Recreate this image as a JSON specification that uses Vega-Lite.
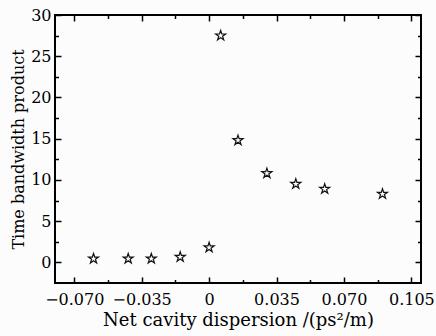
{
  "$schema": "https://vega.github.io/schema/vega-lite/v6.json",
  "width": 366,
  "height": 268,
  "autosize": "none",
  "padding": {"left": 55, "top": 15, "right": 15, "bottom": 53},
  "background": "#fcfcfc",
  "config": {
    "view": {"stroke": "#000", "strokeWidth": 2},
    "axis": {
      "labelFont": "DejaVu Serif",
      "titleFont": "DejaVu Serif",
      "labelFontSize": 16,
      "titleFontSize": 16,
      "titleFontWeight": "normal",
      "labelColor": "#000",
      "titleColor": "#000",
      "tickColor": "#000",
      "tickWidth": 1.5,
      "domain": false,
      "grid": false
    }
  },
  "data": {
    "values": [
      {"d": -0.060, "tbp": 0.45},
      {"d": -0.042, "tbp": 0.45},
      {"d": -0.030, "tbp": 0.45},
      {"d": -0.015, "tbp": 0.65},
      {"d": 0.000, "tbp": 1.8},
      {"d": 0.006, "tbp": 27.5},
      {"d": 0.015, "tbp": 14.8},
      {"d": 0.030, "tbp": 10.8},
      {"d": 0.045, "tbp": 9.5},
      {"d": 0.060, "tbp": 8.9},
      {"d": 0.090, "tbp": 8.3}
    ]
  },
  "layer": [
    {
      "mark": {
        "type": "point",
        "shape": "M0,-1L0.2245,-0.309L0.951,-0.309L0.363,0.118L0.588,0.809L0,0.382L-0.588,0.809L-0.363,0.118L-0.951,-0.309L-0.2245,-0.309Z",
        "size": 110,
        "filled": false,
        "stroke": "#111",
        "strokeWidth": 1.2,
        "opacity": 1
      },
      "encoding": {
        "x": {
          "field": "d",
          "type": "quantitative",
          "scale": {"domain": [-0.08, 0.11], "nice": false, "zero": false},
          "axis": {
            "orient": "bottom",
            "title": "Net cavity dispersion /(ps²/m)",
            "titleFontSize": 18,
            "values": [-0.07, -0.0525, -0.035, -0.0175, 0, 0.0175, 0.035, 0.0525, 0.07, 0.0875, 0.105],
            "labelExpr": "abs(datum.value/0.035 - round(datum.value/0.035)) < 0.001 ? (datum.value == 0 ? '0' : format(datum.value, '.3f')) : ''",
            "tickSize": {"condition": {"test": "abs(datum.value/0.035 - round(datum.value/0.035)) < 0.001", "value": -6}, "value": -3.5},
            "labelPadding": 14,
            "titlePadding": 4
          }
        },
        "y": {
          "field": "tbp",
          "type": "quantitative",
          "scale": {"domain": [-2.5, 30], "nice": false, "zero": false},
          "axis": {
            "orient": "left",
            "title": "Time bandwidth product",
            "values": [0, 2.5, 5, 7.5, 10, 12.5, 15, 17.5, 20, 22.5, 25, 27.5, 30],
            "labelExpr": "datum.value % 5 == 0 ? format(datum.value, 'd') : ''",
            "tickSize": {"condition": {"test": "datum.value % 5 == 0", "value": -6}, "value": -3.5},
            "labelPadding": 10,
            "titlePadding": 4
          }
        }
      }
    },
    {
      "mark": {"type": "point", "opacity": 0},
      "encoding": {
        "x": {
          "field": "d",
          "type": "quantitative",
          "axis": {
            "orient": "top",
            "title": null,
            "labels": false,
            "values": [-0.07, -0.0525, -0.035, -0.0175, 0, 0.0175, 0.035, 0.0525, 0.07, 0.0875, 0.105],
            "tickSize": {"condition": {"test": "abs(datum.value/0.035 - round(datum.value/0.035)) < 0.001", "value": -6}, "value": -3.5}
          }
        },
        "y": {
          "field": "tbp",
          "type": "quantitative",
          "axis": {
            "orient": "right",
            "title": null,
            "labels": false,
            "values": [0, 2.5, 5, 7.5, 10, 12.5, 15, 17.5, 20, 22.5, 25, 27.5, 30],
            "tickSize": {"condition": {"test": "datum.value % 5 == 0", "value": -6}, "value": -3.5}
          }
        }
      }
    }
  ],
  "resolve": {"axis": {"x": "independent", "y": "independent"}}
}
